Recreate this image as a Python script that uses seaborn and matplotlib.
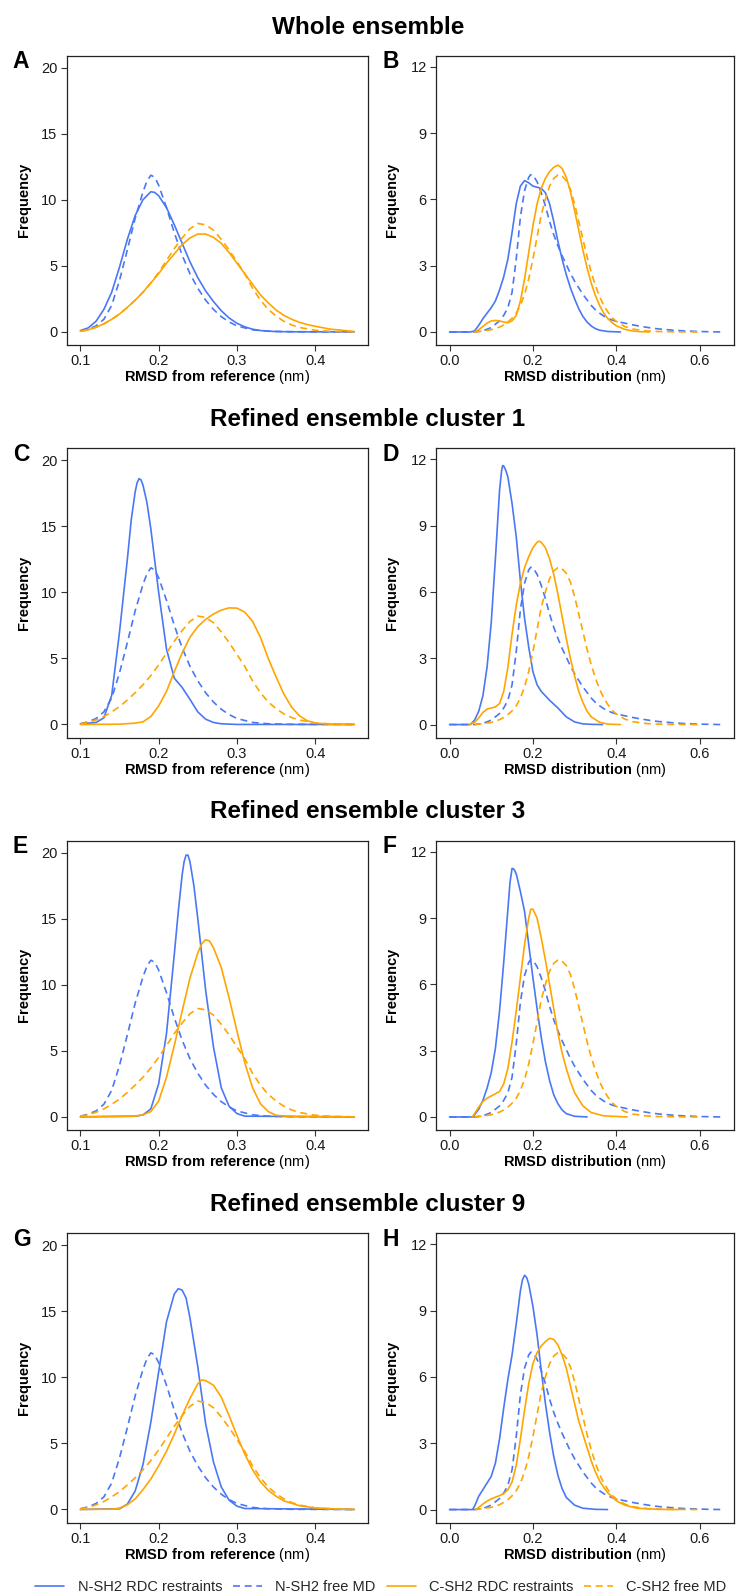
import matplotlib
matplotlib.use("Agg")
import matplotlib.pyplot as plt
import numpy as np
import pandas as pd
import seaborn as sns
from matplotlib.lines import Line2D

# ---------------- data ----------------
SERIES = ["N-SH2 RDC restraints", "N-SH2 free MD", "C-SH2 RDC restraints", "C-SH2 free MD"]
ROW_TITLES = ["Whole ensemble", "Refined ensemble cluster 1",
              "Refined ensemble cluster 3", "Refined ensemble cluster 9"]
LETTERS = ["A", "B", "C", "D", "E", "F", "G", "H"]
LEFT_XTICKS = [0.1, 0.2, 0.3, 0.4]
LEFT_YTICKS = [0, 5, 10, 15, 20]
RIGHT_XTICKS = [0.0, 0.2, 0.4, 0.6]
RIGHT_YTICKS = [0, 3, 6, 9, 12]

# free MD curves (identical in every row)
X_L_NFREE = [0.10,0.11,0.12,0.13,0.14,0.15,0.16,0.17,0.18,0.185,0.19,0.195,0.20,0.21,0.22,0.23,0.24,0.25,0.26,0.27,0.28,0.29,0.30,0.32,0.34,0.37,0.45]
Y_L_NFREE = [0.05,0.2,0.45,0.95,2.0,3.9,6.2,8.6,10.6,11.4,11.85,11.7,11.1,9.4,7.5,5.8,4.4,3.3,2.4,1.7,1.15,0.75,0.45,0.15,0.05,0.01,0.0]
X_L_CFREE = [0.10,0.11,0.12,0.13,0.14,0.15,0.16,0.17,0.18,0.19,0.20,0.21,0.22,0.23,0.24,0.25,0.26,0.27,0.28,0.29,0.30,0.31,0.32,0.33,0.34,0.35,0.36,0.37,0.38,0.40,0.42,0.45]
Y_L_CFREE = [0.05,0.15,0.35,0.6,0.95,1.35,1.85,2.4,3.0,3.7,4.5,5.4,6.3,7.1,7.8,8.2,8.1,7.7,7.0,6.2,5.3,4.4,3.3,2.4,1.7,1.2,0.8,0.52,0.33,0.12,0.04,0.0]
X_R_NFREE = [0.00,0.06,0.08,0.10,0.12,0.13,0.14,0.15,0.16,0.17,0.18,0.19,0.195,0.20,0.21,0.22,0.23,0.24,0.25,0.26,0.27,0.28,0.29,0.30,0.31,0.32,0.33,0.34,0.35,0.36,0.37,0.38,0.39,0.40,0.42,0.44,0.46,0.48,0.50,0.53,0.56,0.60,0.65]
Y_R_NFREE = [0.0,0.0,0.05,0.2,0.5,0.75,1.1,1.8,3.3,5.2,6.4,7.0,7.12,7.1,6.8,6.3,5.7,5.0,4.4,3.9,3.45,3.05,2.65,2.3,2.0,1.7,1.45,1.2,1.0,0.85,0.72,0.62,0.54,0.48,0.4,0.32,0.25,0.19,0.14,0.09,0.05,0.02,0.0]
X_R_CFREE = [0.06,0.08,0.10,0.12,0.13,0.14,0.15,0.16,0.17,0.18,0.19,0.20,0.21,0.22,0.23,0.24,0.25,0.26,0.265,0.27,0.28,0.29,0.30,0.31,0.32,0.33,0.34,0.35,0.36,0.37,0.38,0.39,0.40,0.42,0.44,0.47,0.50,0.55,0.60]
Y_R_CFREE = [0.0,0.04,0.1,0.22,0.32,0.45,0.62,0.85,1.2,1.7,2.4,3.3,4.3,5.3,6.0,6.6,6.95,7.1,7.12,7.05,6.85,6.45,5.8,5.0,4.2,3.4,2.7,2.1,1.6,1.2,0.9,0.65,0.48,0.25,0.13,0.05,0.02,0.005,0.0]

# Panel A
X_A_N = [0.10,0.11,0.12,0.13,0.14,0.15,0.16,0.17,0.18,0.19,0.195,0.20,0.21,0.22,0.23,0.24,0.25,0.26,0.27,0.28,0.29,0.30,0.31,0.32,0.33,0.35,0.38,0.45]
Y_A_N = [0.1,0.3,0.8,1.7,3.0,4.9,7.0,8.8,10.0,10.6,10.55,10.3,9.4,8.1,6.7,5.3,4.1,3.1,2.3,1.6,1.05,0.65,0.38,0.2,0.1,0.02,0.0,0.0]
X_A_C = [0.10,0.11,0.12,0.13,0.14,0.15,0.16,0.17,0.18,0.19,0.20,0.21,0.22,0.23,0.24,0.25,0.26,0.27,0.28,0.29,0.30,0.31,0.32,0.33,0.34,0.35,0.36,0.37,0.38,0.39,0.40,0.42,0.45]
Y_A_C = [0.05,0.15,0.35,0.6,0.95,1.35,1.85,2.4,3.0,3.7,4.4,5.2,5.9,6.6,7.1,7.4,7.4,7.15,6.7,6.0,5.2,4.4,3.6,2.8,2.2,1.65,1.25,0.95,0.72,0.55,0.42,0.2,0.03]
# Panel B
X_B_N = [0.00,0.05,0.06,0.07,0.08,0.09,0.10,0.11,0.12,0.13,0.14,0.15,0.16,0.17,0.18,0.19,0.20,0.21,0.22,0.23,0.24,0.25,0.26,0.27,0.28,0.29,0.30,0.31,0.32,0.33,0.34,0.35,0.36,0.38,0.41]
Y_B_N = [0.0,0.0,0.05,0.3,0.6,0.85,1.1,1.4,1.9,2.5,3.3,4.5,5.8,6.6,6.85,6.75,6.6,6.55,6.5,6.3,5.8,5.0,4.1,3.3,2.6,2.0,1.5,1.05,0.7,0.45,0.27,0.15,0.08,0.02,0.0]
X_B_C = [0.06,0.07,0.08,0.09,0.10,0.11,0.12,0.13,0.14,0.15,0.16,0.17,0.18,0.19,0.20,0.21,0.22,0.23,0.24,0.25,0.26,0.27,0.28,0.29,0.30,0.31,0.32,0.33,0.34,0.35,0.36,0.37,0.38,0.39,0.40,0.42,0.44,0.46,0.48]
Y_B_C = [0.0,0.1,0.25,0.4,0.5,0.52,0.5,0.45,0.42,0.5,0.75,1.4,2.4,3.6,4.8,5.8,6.5,6.95,7.25,7.45,7.55,7.4,7.0,6.35,5.5,4.6,3.7,2.9,2.2,1.65,1.2,0.85,0.6,0.42,0.28,0.12,0.04,0.01,0.0]
# Panel C
X_C_N = [0.10,0.11,0.12,0.13,0.14,0.15,0.16,0.165,0.17,0.1725,0.175,0.1775,0.18,0.185,0.19,0.20,0.21,0.22,0.23,0.24,0.25,0.26,0.27,0.28,0.30,0.45]
Y_C_N = [0.05,0.1,0.15,0.5,2.2,7.0,12.5,15.5,17.6,18.3,18.6,18.5,18.1,16.8,14.8,10.0,5.7,3.5,2.8,1.9,0.95,0.4,0.15,0.05,0.0,0.0]
X_C_C = [0.10,0.15,0.17,0.18,0.19,0.20,0.21,0.22,0.23,0.24,0.25,0.26,0.27,0.28,0.29,0.30,0.31,0.32,0.33,0.34,0.35,0.36,0.37,0.38,0.39,0.40,0.42,0.45]
Y_C_C = [0.0,0.02,0.1,0.2,0.6,1.4,2.5,4.0,5.4,6.6,7.4,7.95,8.35,8.65,8.82,8.8,8.5,7.8,6.6,5.0,3.6,2.3,1.3,0.65,0.28,0.1,0.02,0.0]
# Panel D
X_D_N = [0.00,0.05,0.06,0.07,0.08,0.09,0.10,0.11,0.12,0.125,0.1275,0.13,0.135,0.14,0.15,0.16,0.17,0.18,0.19,0.20,0.21,0.22,0.24,0.26,0.28,0.30,0.32,0.34,0.367]
Y_D_N = [0.0,0.0,0.2,0.6,1.3,2.6,4.6,7.5,10.6,11.5,11.72,11.7,11.5,11.2,10.0,8.5,6.5,4.8,3.5,2.4,1.8,1.5,1.1,0.75,0.35,0.12,0.03,0.01,0.0]
X_D_C = [0.047,0.06,0.07,0.08,0.09,0.10,0.11,0.12,0.13,0.14,0.15,0.16,0.17,0.18,0.19,0.20,0.21,0.215,0.22,0.23,0.24,0.25,0.26,0.27,0.28,0.29,0.30,0.31,0.32,0.33,0.34,0.36,0.38,0.41]
Y_D_C = [0.0,0.1,0.3,0.55,0.7,0.75,0.8,0.95,1.5,2.6,4.1,5.4,6.4,7.1,7.6,8.0,8.25,8.3,8.25,8.0,7.5,6.8,5.9,4.9,3.9,3.0,2.2,1.5,1.0,0.6,0.35,0.1,0.02,0.0]
# Panel E
X_E_N = [0.10,0.17,0.18,0.19,0.20,0.21,0.22,0.225,0.23,0.2325,0.235,0.2375,0.24,0.245,0.25,0.26,0.27,0.28,0.29,0.30,0.31,0.45]
Y_E_N = [0.0,0.05,0.15,0.6,2.5,6.3,12.3,15.5,18.3,19.3,19.8,19.8,19.3,17.5,15.0,9.6,5.3,2.2,0.8,0.25,0.05,0.0]
X_E_C = [0.10,0.17,0.18,0.19,0.20,0.21,0.22,0.23,0.24,0.25,0.255,0.26,0.265,0.27,0.28,0.29,0.30,0.31,0.32,0.33,0.34,0.35,0.37,0.45]
Y_E_C = [0.0,0.05,0.15,0.4,1.2,3.0,5.4,8.0,10.5,12.4,13.1,13.4,13.3,12.8,11.3,9.0,6.5,4.1,2.2,1.0,0.4,0.12,0.02,0.0]
# Panel F
X_F_N = [0.00,0.055,0.06,0.07,0.08,0.09,0.10,0.11,0.12,0.13,0.14,0.145,0.15,0.155,0.16,0.17,0.18,0.19,0.20,0.21,0.22,0.23,0.24,0.25,0.26,0.27,0.28,0.30,0.33]
Y_F_N = [0.0,0.0,0.1,0.35,0.75,1.3,2.0,3.1,4.8,7.0,9.4,10.6,11.25,11.2,11.0,10.2,9.3,7.8,6.3,4.9,3.6,2.5,1.65,1.0,0.6,0.32,0.15,0.03,0.0]
X_F_C = [0.055,0.06,0.07,0.08,0.09,0.10,0.11,0.12,0.13,0.14,0.15,0.16,0.17,0.18,0.19,0.195,0.20,0.21,0.22,0.23,0.24,0.25,0.26,0.27,0.28,0.29,0.30,0.32,0.34,0.37,0.426]
Y_F_C = [0.0,0.15,0.45,0.7,0.85,0.95,1.05,1.15,1.5,2.2,3.4,4.8,6.3,7.8,9.0,9.4,9.4,9.0,8.1,7.1,6.0,4.9,3.8,2.9,2.2,1.6,1.1,0.5,0.2,0.05,0.0]
# Panel G
X_G_N = [0.10,0.15,0.16,0.17,0.18,0.19,0.20,0.21,0.22,0.225,0.23,0.235,0.24,0.25,0.26,0.27,0.28,0.29,0.30,0.31,0.45]
Y_G_N = [0.0,0.05,0.4,1.4,3.4,6.6,10.4,14.2,16.3,16.7,16.6,16.0,14.5,10.8,6.5,3.6,1.7,0.7,0.25,0.07,0.0]
X_G_C = [0.10,0.14,0.15,0.16,0.17,0.18,0.19,0.20,0.21,0.22,0.23,0.24,0.25,0.255,0.26,0.27,0.28,0.29,0.30,0.31,0.32,0.33,0.34,0.35,0.36,0.38,0.40,0.43,0.45]
Y_G_C = [0.0,0.02,0.1,0.35,0.8,1.5,2.3,3.3,4.4,5.7,7.1,8.4,9.5,9.8,9.75,9.4,8.5,7.1,5.6,4.2,3.0,2.1,1.45,1.0,0.65,0.28,0.12,0.03,0.0]
# Panel H
X_H_N = [0.00,0.055,0.06,0.07,0.08,0.09,0.10,0.11,0.12,0.13,0.14,0.15,0.16,0.17,0.175,0.18,0.185,0.19,0.20,0.21,0.22,0.23,0.24,0.25,0.26,0.27,0.28,0.30,0.32,0.35,0.379]
Y_H_N = [0.0,0.0,0.15,0.6,0.9,1.2,1.5,2.1,3.2,4.6,5.9,7.0,8.4,9.9,10.4,10.6,10.5,10.2,9.2,7.9,6.3,4.8,3.5,2.4,1.55,0.95,0.55,0.2,0.06,0.01,0.0]
X_H_C = [0.063,0.07,0.08,0.09,0.10,0.11,0.12,0.13,0.14,0.15,0.16,0.17,0.18,0.19,0.20,0.21,0.22,0.23,0.24,0.25,0.26,0.27,0.28,0.29,0.30,0.31,0.32,0.33,0.34,0.35,0.36,0.37,0.38,0.40,0.42,0.45,0.50,0.549]
Y_H_C = [0.0,0.1,0.25,0.38,0.48,0.56,0.63,0.72,0.9,1.25,2.0,3.2,4.5,5.7,6.6,7.1,7.4,7.6,7.75,7.7,7.45,7.0,6.4,5.6,4.8,4.0,3.4,2.8,2.2,1.7,1.3,1.0,0.75,0.4,0.2,0.06,0.01,0.0]

PANELS = [
    [(X_A_N, Y_A_N), (X_L_NFREE, Y_L_NFREE), (X_A_C, Y_A_C), (X_L_CFREE, Y_L_CFREE)],
    [(X_B_N, Y_B_N), (X_R_NFREE, Y_R_NFREE), (X_B_C, Y_B_C), (X_R_CFREE, Y_R_CFREE)],
    [(X_C_N, Y_C_N), (X_L_NFREE, Y_L_NFREE), (X_C_C, Y_C_C), (X_L_CFREE, Y_L_CFREE)],
    [(X_D_N, Y_D_N), (X_R_NFREE, Y_R_NFREE), (X_D_C, Y_D_C), (X_R_CFREE, Y_R_CFREE)],
    [(X_E_N, Y_E_N), (X_L_NFREE, Y_L_NFREE), (X_E_C, Y_E_C), (X_L_CFREE, Y_L_CFREE)],
    [(X_F_N, Y_F_N), (X_R_NFREE, Y_R_NFREE), (X_F_C, Y_F_C), (X_R_CFREE, Y_R_CFREE)],
    [(X_G_N, Y_G_N), (X_L_NFREE, Y_L_NFREE), (X_G_C, Y_G_C), (X_L_CFREE, Y_L_CFREE)],
    [(X_H_N, Y_H_N), (X_R_NFREE, Y_R_NFREE), (X_H_C, Y_H_C), (X_R_CFREE, Y_R_CFREE)],
]

# ---------------- style ----------------
sns.set_theme(style="ticks")
plt.rcParams["font.family"] = ["Liberation Sans", "DejaVu Sans"]
plt.rcParams["mathtext.fontset"] = "custom"
plt.rcParams["mathtext.rm"] = "Liberation Sans"
plt.rcParams["mathtext.bf"] = "Liberation Sans:bold"

BLUE = "#4A78F5"
ORANGE = "#FFA500"
PALETTE = {SERIES[0]: BLUE, SERIES[1]: BLUE, SERIES[2]: ORANGE, SERIES[3]: ORANGE}
DASHES = {SERIES[0]: "", SERIES[1]: (4.2, 2.8), SERIES[2]: "", SERIES[3]: (4.2, 2.8)}
LW = 1.2
FRAME = "#222222"

W, H = 736, 1595
fig = plt.figure(figsize=(W / 100, H / 100), dpi=100)

ROW_TOPS = [55.7, 448.3, 840.7, 1233.3]
AX_H = 289.3
COLS = [(66.7, 301.3), (436.0, 298.0)]

for idx, curves in enumerate(PANELS):
    r, c = divmod(idx, 2)
    left_px, w_px = COLS[c]
    top = ROW_TOPS[r]
    ax = fig.add_axes([left_px / W, 1 - (top + AX_H) / H, w_px / W, AX_H / H])
    frames = []
    for name, (xs, ys) in zip(SERIES, curves):
        frames.append(pd.DataFrame({"x": xs, "y": ys, "series": name}))
    df = pd.concat(frames, ignore_index=True)
    sns.lineplot(data=df, x="x", y="y", hue="series", style="series",
                 hue_order=SERIES, style_order=SERIES, palette=PALETTE,
                 dashes=DASHES, estimator=None, sort=False, linewidth=LW,
                 legend=False, ax=ax)
    for ln in ax.lines:
        ln.set_solid_joinstyle("round")
        ln.set_dash_joinstyle("round")
    if c == 0:
        ax.set_xlim(0.0825, 0.4675)
        ax.set_ylim(-0.995, 20.895)
        ax.set_xticks(LEFT_XTICKS)
        ax.set_xticklabels([f"{v:.1f}" for v in LEFT_XTICKS])
        ax.set_yticks(LEFT_YTICKS)
        ax.set_yticklabels([str(v) for v in LEFT_YTICKS])
        xl = r"$\bf{RMSD\ from\ reference}$ (nm)"
    else:
        ax.set_xlim(-0.0325, 0.6825)
        ax.set_ylim(-0.59, 12.5)
        ax.set_xticks(RIGHT_XTICKS)
        ax.set_xticklabels([f"{v:.1f}" for v in RIGHT_XTICKS])
        ax.set_yticks(RIGHT_YTICKS)
        ax.set_yticklabels([str(v) for v in RIGHT_YTICKS])
        xl = r"$\bf{RMSD\ distribution}$ (nm)"
    ax.set_xlabel("")
    ax.set_ylabel("")
    for s in ax.spines.values():
        s.set_visible(True)
        s.set_linewidth(0.9)
        s.set_color(FRAME)
    ax.tick_params(direction="out", length=4.0, width=0.8, color="#333333",
                   labelsize=10.5, labelcolor="#1a1a1a", pad=2.6)
    ax.grid(False)
    # axis titles
    ax.text(0.5, -32 / AX_H, xl, transform=ax.transAxes, ha="center",
            va="center", fontsize=10.5, color="black")
    ylab_x = (23.7 - left_px) / w_px if c == 0 else (392.0 - left_px) / w_px
    ax.text(ylab_x, 0.5, "Frequency", transform=ax.transAxes, ha="center",
            va="center", rotation=90, fontsize=10.5, fontweight="bold", color="black")
    # panel letter
    letter_x = 12.7 if c == 0 else 382.7
    fig.text(letter_x / W, 1 - (top + 6) / H, LETTERS[idx], ha="left", va="center",
             fontsize=16.5, fontweight="bold", color="black")

for r, title in enumerate(ROW_TITLES):
    fig.text(0.5, 1 - (ROW_TOPS[r] - 28.7) / H, title, ha="center", va="center",
             fontsize=17.5, fontweight="bold", color="black")

handles = []
for name in SERIES:
    if DASHES[name] == "":
        h = Line2D([], [], color=PALETTE[name], lw=LW)
    else:
        h = Line2D([], [], color=PALETTE[name], lw=LW, dashes=DASHES[name])
    handles.append(h)
fig.legend(handles, SERIES, loc="center", bbox_to_anchor=(381 / W, 1 - 1587 / H),
           ncol=4, frameon=False, fontsize=10.5, handlelength=2.0,
           handletextpad=0.9, columnspacing=0.75, borderpad=0.0)

fig.savefig("out.png", dpi=100)
